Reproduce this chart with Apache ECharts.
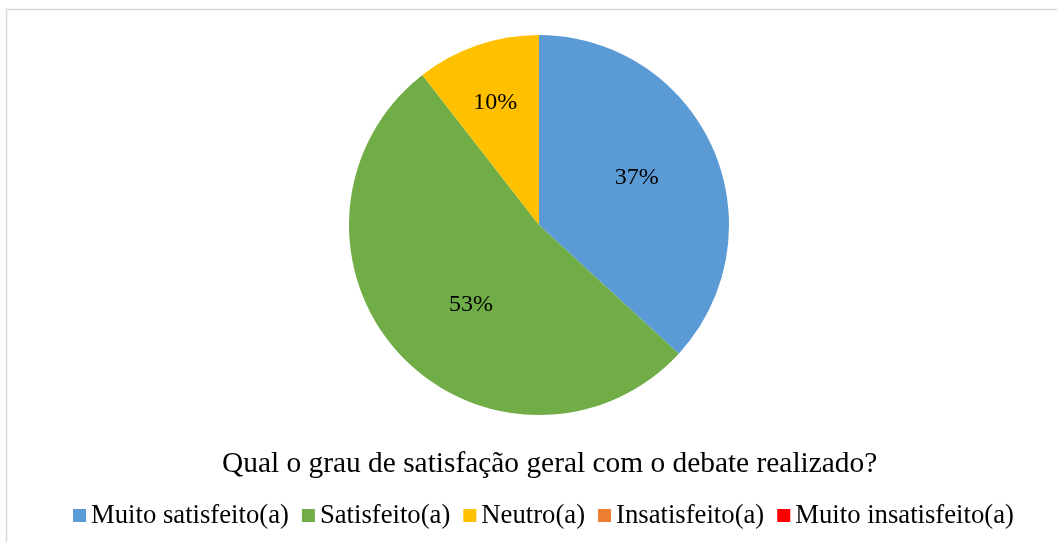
<!DOCTYPE html>
<html>
<head>
<meta charset="utf-8">
<script src="https://cdn.jsdelivr.net/npm/echarts@6/dist/echarts.min.js"></script>
<style>
  html, body { margin: 0; padding: 0; background: #fff; }
  #main { width: 1057px; height: 542px; }
</style>
</head>
<body>
<div id="main"></div>
<script>
// respostas (contagens: 37%, 53%, 10%)
var categorias = ["Muito satisfeito(a)", "Satisfeito(a)", "Neutro(a)", "Insatisfeito(a)", "Muito insatisfeito(a)"];
var respostas = [7, 10, 2, 0, 0];
var cores = ["#5b9bd5", "#70ad47", "#ffc000", "#ed7d31", "#ff0000"];
var titulo = "Qual o grau de satisfação geral com o debate realizado?";

var fonte = "'Liberation Serif', 'Times New Roman', serif";
// pequenos ajustes de posição dos rótulos (como no Excel)
var deslocamentos = [[8, -8], [4, 13], [-12, -30], [0, 0], [0, 0]];

var myChart = echarts.init(document.getElementById("main"));
myChart.setOption({
  animation: false,
  color: cores,
  title: {
    text: titulo,
    left: 217,
    top: 445,
    textStyle: { fontFamily: fonte, fontSize: 29.4, fontWeight: "normal", color: "#000" }
  },
  legend: {
    bottom: 8,
    left: 68,
    itemWidth: 13,
    itemHeight: 13,
    itemGap: 13,
    icon: "rect",
    selectedMode: false,
    data: categorias,
    textStyle: { fontFamily: fonte, fontSize: 26.7, color: "#000" }
  },
  graphic: [{
    type: "rect",
    shape: { x: 6.5, y: 9.5, width: 1200, height: 700 },
    style: { fill: "none", stroke: "#d9d9d9", lineWidth: 1.5 },
    silent: true
  }],
  series: [{
    type: "pie",
    center: [539, 225],
    radius: [0, 190],
    startAngle: 90,
    clockwise: true,
    percentPrecision: 0,
    avoidLabelOverlap: false,
    itemStyle: { borderWidth: 0 },
    label: {
      position: "inside",
      fontFamily: fonte,
      fontSize: 24,
      color: "#000",
      formatter: function (p) {
        return p.value ? p.percent + "%" : "";
      }
    },
    labelLine: { show: false },
    emphasis: { disabled: true },
    data: categorias.map(function (c, i) {
      return { name: c, value: respostas[i], label: { offset: deslocamentos[i] } };
    })
  }]
});
</script>
</body>
</html>
